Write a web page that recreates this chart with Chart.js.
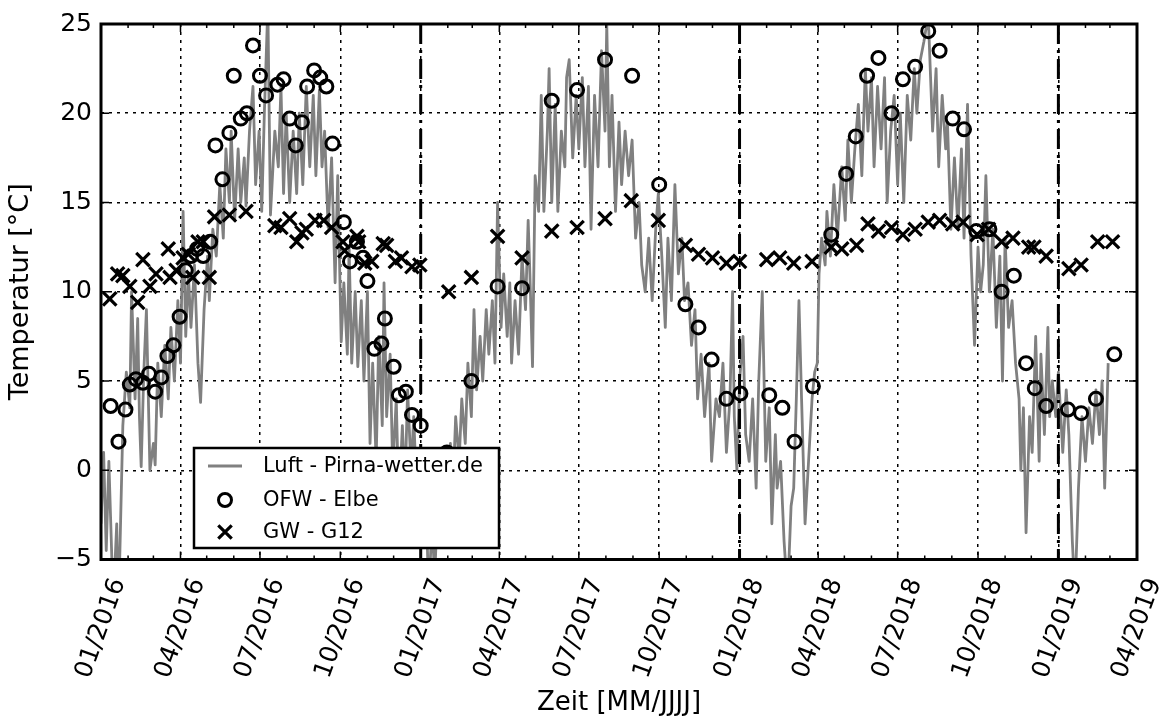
<!DOCTYPE html>
<html lang="de">
<head>
<meta charset="utf-8">
<title>Temperatur Luft / OFW / GW</title>
<script src="https://cdn.jsdelivr.net/npm/chart.js@4.4.1/dist/chart.umd.min.js"></script>
<style>
  html, body { margin: 0; padding: 0; background: #fff; }
  #wrap { width: 1168px; height: 724px; }
</style>
</head>
<body>
<div id="wrap"><canvas id="tempChart" width="1168" height="724"></canvas></div>
<script>
// all x values are days since 01.01.2016

// air temperature (Pirna-wetter.de)
const airDay = [
    0, 3, 6, 9, 14, 18, 20, 25, 29, 33,
    35, 39, 42, 44, 46, 49, 52, 56, 60, 62,
    65, 69, 73, 77, 80, 84, 88, 91, 94, 97,
    100, 103, 107, 111, 114, 118, 122, 124, 128, 132,
    136, 140, 143, 147, 149, 153, 157, 160, 164, 166,
    170, 174, 177, 181, 184, 187, 191, 194, 199, 203,
    206, 209, 212, 216, 220, 224, 227, 231, 235, 239,
    243, 246, 250, 253, 256, 260, 264, 268, 271, 275,
    278, 282, 284, 287, 291, 294, 298, 301, 305, 308,
    311, 315, 318, 322, 324, 327, 331, 334, 338, 341,
    345, 348, 351, 355, 358, 362, 365, 369, 372, 375,
    379, 382, 386, 389, 393, 396, 400, 403, 406, 410,
    413, 417, 420, 424, 427, 430, 434, 437, 441, 444,
    448, 451, 454, 458, 461, 465, 468, 470, 474, 478,
    482, 486, 489, 491, 494, 497, 501, 504, 507, 511,
    513, 516, 520, 523, 527, 531, 533, 536, 540, 544,
    547, 551, 554, 558, 561, 565, 569, 573, 577, 579,
    582, 585, 589, 593, 596, 600, 604, 608, 612, 616,
    619, 623, 627, 631, 635, 638, 642, 646, 649, 653,
    657, 661, 665, 668, 672, 676, 680, 683, 687, 691,
    696, 699, 704, 708, 712, 716, 720, 723, 725, 728,
    731, 735, 738, 742, 746, 750, 753, 757, 761, 765,
    768, 772, 774, 778, 782, 786, 790, 793, 796, 799,
    802, 806, 810, 814, 817, 820, 822, 825, 829, 831,
    835, 839, 843, 848, 852, 855, 859, 863, 867, 871,
    875, 878, 882, 885, 889, 893, 897, 900, 904, 908,
    912, 915, 919, 923, 927, 931, 934, 938, 942, 947,
    952, 956, 959, 963, 967, 969, 973, 977, 981, 985,
    988, 992, 996, 1000, 1004, 1007, 1010, 1013, 1017, 1021,
    1025, 1029, 1032, 1035, 1039, 1043, 1047, 1051, 1053, 1056,
    1059, 1063, 1066, 1070, 1074, 1076, 1080, 1084, 1086, 1089,
    1093, 1096, 1101, 1105, 1108, 1112, 1115, 1119, 1123, 1127,
    1131, 1135, 1139, 1143, 1146, 1149, 1153
];
const airTemp = [
    -3, 1, -4.5, 0.5, -7.5, -3, -8, 2.5, 5.5, 3.5,
    10, 4, 8.5, 3, 0.2, 5.5, 9, 0, 1.5, 0.3,
    6, 3, 7, 4, 8, 5, 9.5, 6, 14.5, 7.5,
    11, 8, 11.5, 6, 3.8, 9, 12, 9.5, 13.5, 12,
    16, 13, 18, 15, 19, 14, 18, 15, 17.5, 14.8,
    19, 21.5, 16, 19, 14.5, 20, 26, 14.3, 19, 17,
    21.5, 15.5, 20, 15, 19, 15.5, 20, 16, 21.5, 17,
    21, 16.5, 21.3, 17, 19, 13.6, 17.5, 10.5, 16.5, 7.2,
    10.5, 6.5, 12.5, 6, 10, 5.8, 9.5, 5, 10, 1.5,
    6, 0.5, 7.5, 2.5, 10.5, 3, 6.5, 0, 4, -2,
    2.5, -1, 4.5, 0, 3, -2, 1, -4, -1, -7,
    -3, -6, -1, -4, 0.5, -2, 1.5, -1, 3, 0.5,
    4, 1.5, 6, 3, 9, 4.5, 7.5, 5, 9, 6.5,
    9.5, 6, 15, 8, 11, 7.5, 10.5, 6, 9.5, 6.5,
    12, 9, 14, 11, 5.8, 16.5, 14.5, 21, 14.5, 19,
    22.5, 15, 20.5, 14.5, 19, 17, 22, 23, 17.5, 21,
    18, 22, 17, 21.5, 13.5, 21, 17, 23.5, 19, 25,
    17, 21, 14.5, 19.5, 16, 19, 16.5, 18.5, 13, 15,
    11.5, 10, 13, 9.5, 13.5, 15.5, 12, 8, 13, 9.5,
    16, 11, 13, 9.5, 10.5, 7, 9, 4, 6.5, 3,
    6, 0.5, 4, 3, 6, 1, 4, 10, 3, 0,
    5, 7.5, 2, 0.5, 4, -1, 5, 10, 0.5, 3.5,
    -3, 2, -1, 0.5, -4, -7, -2, -1, 4, 9.5,
    4, -3, 0.5, 4, 5.5, 6, 11, 13, 11.5, 14.5,
    12, 16, 13, 17, 14, 18.5, 15, 18, 20.5, 16.5,
    22.5, 19, 22, 17, 21.5, 18, 22, 15, 19, 21,
    16, 20, 15, 21, 18.5, 22.5, 20, 23, 24, 25.5,
    19, 22.5, 17, 21, 18, 19.5, 13.5, 17.5, 13.5, 18,
    13, 20.5, 12, 7, 12.5, 10, 11.5, 16.5, 10, 13.5,
    8, 12, 5, 13, 8, 9.5, 6, 4, 0, 3.5,
    -3.5, 3, 1, 7.5, 0.5, 6.5, 2, 8, 3, 5,
    3, 5.5, 1, 4.5, 2, -4, -7, -1, 3, 0.5,
    3.5, 1.5, 4.5, 2, 5, -1, 6
];

// surface water (Elbe)
const ofwDay = [
    11, 20, 28, 33, 40, 48, 55, 62, 69, 76,
    83, 90, 97, 103, 110, 117, 125, 131, 139, 147,
    152, 160, 167, 174, 182, 189, 202, 209, 216, 223,
    230, 236, 244, 251, 258, 265, 278, 285, 293, 300,
    305, 313, 321, 325, 335, 341, 349, 356, 366, 396,
    424, 454, 482, 516, 545, 577, 608, 639, 669, 684,
    699, 716, 732, 765, 780, 794, 815, 836, 853, 864,
    877, 890, 905, 918, 932, 947, 960, 975, 988, 1002,
    1017, 1031, 1045, 1059, 1069, 1082, 1107, 1122, 1139, 1160
];
const ofwTemp = [
    3.6, 1.6, 3.4, 4.8, 5.1, 4.9, 5.4, 4.4, 5.2, 6.4,
    7.0, 8.6, 11.2, 12.0, 12.4, 12.0, 12.8, 18.2, 16.3, 18.9,
    22.1, 19.7, 20.0, 23.8, 22.1, 21.0, 21.6, 21.9, 19.7, 18.2,
    19.5, 21.5, 22.4, 22.0, 21.5, 18.3, 13.9, 11.7, 12.8, 11.9,
    10.6, 6.8, 7.1, 8.5, 5.8, 4.2, 4.4, 3.1, 2.5, 1.0,
    5.0, 10.3, 10.2, 20.7, 21.3, 23.0, 22.1, 16.0, 9.3, 8.0,
    6.2, 4.0, 4.3, 4.2, 3.5, 1.6, 4.7, 13.2, 16.6, 18.7,
    22.1, 23.1, 20.0, 21.9, 22.6, 24.6, 23.5, 19.7, 19.1, 13.4,
    13.5, 10.0, 10.9, 6.0, 4.6, 3.6, 3.4, 3.2, 4.0, 6.5
];

// groundwater well G12
const gwDay = [
    10, 19, 25, 33, 42, 48, 56, 63, 77, 79,
    86, 94, 100, 105, 111, 117, 124, 130, 147, 166,
    199, 206, 216, 224, 230, 235, 245, 255, 264, 277,
    279, 293, 295, 302, 310, 323, 327, 337, 344, 356,
    365, 398, 424, 454, 482, 516, 545, 577, 607, 638,
    669, 684, 700, 716, 731, 762, 777, 793, 814, 836,
    848, 865, 878, 890, 905, 918, 932, 947, 960, 975,
    987, 1003, 1016, 1031, 1044, 1062, 1068, 1082, 1108, 1122,
    1141, 1158
];
const gwTemp = [
    9.6, 11.0, 10.9, 10.3, 9.4, 11.8, 10.3, 11.0, 12.4, 10.8,
    11.2, 11.9, 12.1, 10.8, 12.8, 12.8, 10.8, 14.2, 14.3, 14.5,
    13.7, 13.6, 14.1, 12.8, 13.3, 13.5, 14.0, 14.0, 13.6, 12.8,
    12.3, 13.1, 12.8, 11.6, 11.7, 12.7, 12.6, 11.7, 11.9, 11.4,
    11.5, 10.0, 10.8, 13.1, 11.9, 13.4, 13.6, 14.1, 15.1, 14.0,
    12.6, 12.1, 11.9, 11.6, 11.7, 11.8, 11.9, 11.6, 11.7, 12.5,
    12.4, 12.6, 13.8, 13.4, 13.6, 13.2, 13.5, 13.9, 14.0, 13.8,
    13.9, 13.2, 13.5, 12.8, 13.0, 12.5, 12.5, 12.0, 11.3, 11.5,
    12.8, 12.8
];

const seriesNames = ['Luft - Pirna-wetter.de', 'OFW - Elbe', 'GW - G12'];
const xTickLabels = ['01/2016', '04/2016', '07/2016', '10/2016', '01/2017', '04/2017', '07/2017',
    '10/2017', '01/2018', '04/2018', '07/2018', '10/2018', '01/2019', '04/2019'];
const yearLines = ['01/2017', '01/2018', '01/2019'];

const FONT = '"DejaVu Sans", sans-serif';
const DAY0 = Date.UTC(2016, 0, 1);

// "MM/JJJJ" -> days since 01.01.2016
function labelToDay(lbl) {
    const [mm, yyyy] = lbl.split('/').map(Number);
    return (Date.UTC(yyyy, mm - 1, 1) - DAY0) / 86400000;
}
const majorDays = xTickLabels.map(labelToDay);
const monthDays = [];
for (let m = 0; (Date.UTC(2016, m, 1) - DAY0) / 86400000 <= majorDays[majorDays.length - 1]; m++) {
    monthDays.push((Date.UTC(2016, m, 1) - DAY0) / 86400000);
}

const toXY = (xs, ys) => xs.map((d, i) => ({ x: d, y: ys[i] }));

// year separators, inward ticks, frame and rotated date labels
const frameAndTicks = {
    id: 'frameAndTicks',
    afterDatasetsDraw(chart) {
        const { ctx, chartArea: a, scales: { x, y } } = chart;

        ctx.save();
        ctx.beginPath();
        ctx.rect(a.left, a.top, a.right - a.left, a.bottom - a.top);
        ctx.clip();
        ctx.strokeStyle = '#000';
        ctx.lineWidth = 3;
        ctx.setLineDash([20, 6, 3, 6]);
        yearLines.map(labelToDay).forEach(d => {
            const px = x.getPixelForValue(d);
            ctx.beginPath();
            ctx.moveTo(px, a.top);
            ctx.lineTo(px, a.bottom);
            ctx.stroke();
        });
        ctx.restore();

        ctx.save();
        ctx.strokeStyle = '#000';
        ctx.lineWidth = 1.5;
        monthDays.forEach(d => {
            const px = x.getPixelForValue(d);
            const len = majorDays.includes(d) ? 8 : 4;
            ctx.beginPath();
            ctx.moveTo(px, a.bottom);
            ctx.lineTo(px, a.bottom - len);
            ctx.moveTo(px, a.top);
            ctx.lineTo(px, a.top + len);
            ctx.stroke();
        });
        y.ticks.forEach(t => {
            const py = y.getPixelForValue(t.value);
            ctx.beginPath();
            ctx.moveTo(a.left, py);
            ctx.lineTo(a.left + 8, py);
            ctx.moveTo(a.right, py);
            ctx.lineTo(a.right - 8, py);
            ctx.stroke();
        });

        ctx.lineWidth = 3;
        ctx.strokeRect(a.left, a.top, a.right - a.left, a.bottom - a.top);

        ctx.fillStyle = '#000';
        ctx.font = '25px ' + FONT;
        ctx.textAlign = 'center';
        ctx.textBaseline = 'middle';
        xTickLabels.forEach((lbl, i) => {
            const px = x.getPixelForValue(majorDays[i]);
            ctx.save();
            ctx.translate(px, a.bottom + 69);
            ctx.rotate(-70 * Math.PI / 180);
            ctx.fillText(lbl, 0, 0);
            ctx.restore();
        });
        ctx.restore();
    }
};

// legend box inside the plot (lower left)
const legendBox = {
    id: 'legendBox',
    afterDraw(chart) {
        const { ctx, chartArea: a } = chart;
        const bx = a.left + 93, bw = 305, bh = 100;
        const by = a.bottom - 11.5 - bh;
        const rows = [18, 52, 84];

        ctx.save();
        ctx.fillStyle = '#fff';
        ctx.fillRect(bx, by, bw, bh);
        ctx.strokeStyle = '#000';
        ctx.lineWidth = 2.5;
        ctx.strokeRect(bx, by, bw, bh);

        chart.data.datasets.forEach((ds, i) => {
            const cx = bx + 31, cy = by + rows[i];
            ctx.strokeStyle = ds.borderColor;
            ctx.lineWidth = ds.borderWidth;
            ctx.beginPath();
            if (ds.showLine) {
                ctx.moveTo(bx + 14, cy);
                ctx.lineTo(bx + 48, cy);
            } else if (ds.pointStyle === 'circle') {
                ctx.arc(cx, cy, ds.pointRadius, 0, Math.PI * 2);
            } else {
                const o = ds.pointRadius * Math.SQRT1_2;
                ctx.moveTo(cx - o, cy - o);
                ctx.lineTo(cx + o, cy + o);
                ctx.moveTo(cx - o, cy + o);
                ctx.lineTo(cx + o, cy - o);
            }
            ctx.stroke();

            ctx.fillStyle = '#000';
            ctx.font = '21px ' + FONT;
            ctx.textAlign = 'left';
            ctx.textBaseline = 'middle';
            ctx.fillText(ds.label, bx + 69, cy + 1);
        });
        ctx.restore();
    }
};

const ctx = document.getElementById('tempChart').getContext('2d');
new Chart(ctx, {
    type: 'scatter',
    data: {
        datasets: [{
            label: seriesNames[0],
            data: toXY(airDay, airTemp),
            showLine: true,
            borderColor: '#808080',
            borderWidth: 2.8,
            borderJoinStyle: 'round',
            pointRadius: 0,
            order: 2
        }, {
            label: seriesNames[1],
            data: toXY(ofwDay, ofwTemp),
            pointStyle: 'circle',
            pointRadius: 6.5,
            borderWidth: 3,
            borderColor: '#000',
            backgroundColor: 'rgba(0,0,0,0)',
            clip: false,
            order: 1
        }, {
            label: seriesNames[2],
            data: toXY(gwDay, gwTemp),
            pointStyle: 'crossRot',
            pointRadius: 9.5,
            borderWidth: 3.2,
            borderColor: '#000',
            clip: false,
            order: 0
        }]
    },
    options: {
        responsive: false,
        animation: false,
        devicePixelRatio: 1,
        layout: { padding: { left: 0, right: 31, top: 21, bottom: 0 } },
        plugins: {
            legend: { display: false },
            tooltip: { enabled: false }
        },
        scales: {
            x: {
                type: 'linear',
                min: majorDays[0],
                max: majorDays[majorDays.length - 1],
                afterBuildTicks: scale => { scale.ticks = majorDays.map(v => ({ value: v })); },
                afterFit: scale => { scale.height = 164.5; },
                ticks: { display: false },
                grid: { color: '#000', lineWidth: 1.5, drawTicks: false },
                border: { display: false, dash: [3, 5] },
                title: {
                    display: true,
                    text: 'Zeit [MM/JJJJ]',
                    color: '#000',
                    font: { family: FONT, size: 26 },
                    padding: { top: 0, bottom: 5 }
                }
            },
            y: {
                min: -5,
                max: 25,
                afterFit: scale => { scale.width = 101; },
                ticks: {
                    stepSize: 5,
                    color: '#000',
                    padding: 9,
                    font: { family: FONT, size: 25 },
                    callback: v => String(v).replace('-', '\u2212')
                },
                grid: { color: '#000', lineWidth: 1.5, drawTicks: false },
                border: { display: false, dash: [3, 5] },
                title: {
                    display: true,
                    text: 'Temperatur [°C]',
                    color: '#000',
                    font: { family: FONT, size: 27 },
                    padding: { top: 5, bottom: 0 }
                }
            }
        }
    },
    plugins: [frameAndTicks, legendBox]
});
</script>
</body>
</html>
